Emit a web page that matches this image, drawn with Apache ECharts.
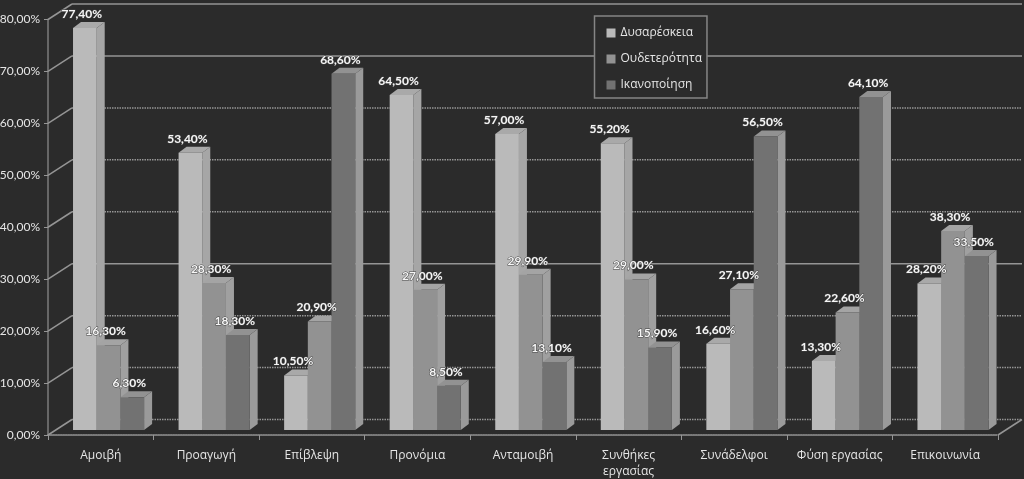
<!DOCTYPE html>
<html><head><meta charset="utf-8">
<style>html,body{margin:0;padding:0;background:#2b2b2b}#c{width:1024px;height:479px}</style>
<script src="https://cdn.jsdelivr.net/npm/echarts@6/dist/echarts.min.js"></script>
</head><body><div id="c"></div>
<script>
const categories = ['Αμοιβή','Προαγωγή','Επίβλεψη','Προνόμια','Ανταμοιβή','Συνθήκες\nεργασίας','Συνάδελφοι','Φύση εργασίας','Επικοινωνία'];
const seriesNames = ['Δυσαρέσκεια','Ουδετερότητα','Ικανοποίηση'];
const dissatisfaction = [77.4,53.4,10.5,64.5,57.0,55.2,16.6,13.3,28.2];
const neutrality = [16.3,28.3,20.9,27.0,29.9,29.0,27.1,22.6,38.3];
const satisfaction = [6.3,18.3,68.6,8.5,13.1,15.9,56.5,64.1,33.5];
const yTicks = [0,10,20,30,40,50,60,70,80];
const solidGridTicks = [30,70,80];

const FONT = '"Open Sans", sans-serif';
const NUMFONT = 'Lato, "Open Sans", sans-serif';
const LINE = '#959595';
const DOT = [1.5,1];
const fmt = v => v.toFixed(2).replace('.', ',') + '%';
const palettes = [
  {front:'#bababa', side:'#a6a6a6', top:'#a9a9a9'},
  {front:'#929292', side:'#a0a0a0', top:'#a4a4a4'},
  {front:'#727272', side:'#9a9a9a', top:'#929292'}
];
const DX = 8, DY = 6, LIFT = 5;
function barBox(idx, api){
  const cat = api.value(0), v = api.value(1);
  const band = api.size([1,0])[0];
  const start = api.coord([cat,0])[0] - band/2;
  const w = band*0.2245;
  const x0 = start + band*0.237 + idx*w;
  return {v, x0, x1:x0+w, w, yb:api.coord([cat,0])[1]-LIFT, yt:api.coord([cat,v])[1]-LIFT};
}
function barRender(idx){
  const pal = palettes[idx];
  return function(params, api){
    const {x0,x1,w,yb,yt} = barBox(idx, api);
    return {type:'group', children:[
      {type:'polygon', shape:{points:[[x1,yb],[x1+DX,yb-DY],[x1+DX,yt-DY],[x1,yt]]}, style:{fill:pal.side}},
      {type:'polygon', shape:{points:[[x0,yt],[x1,yt],[x1+DX,yt-DY],[x0+DX,yt-DY]]}, style:{fill:pal.top}},
      {type:'rect', shape:{x:x0,y:yt,width:w,height:yb-yt}, style:{fill:pal.front}}
    ]};
  };
}
function labelRender(idx){
  return function(params, api){
    const {v,x0,x1,yt} = barBox(idx, api);
    return {type:'text', style:{x:(x0+x1)/2-3, y:yt-DY-8, text:fmt(v), align:'center', verticalAlign:'middle',
      fill:'#f6f6f6', font:'700 12px '+NUMFONT, stroke:'#444444', lineWidth:1}};
  };
}
function backLineRender(params, api){
  const v = api.value(0);
  const band = api.size([1,0])[0];
  const y = api.coord([0,v])[1];
  const x0 = api.coord([0,0])[0]-band/2, x1 = api.coord([8,0])[0]+band/2;
  return {type:'line', shape:{x1:x0,y1:y,x2:x1,y2:y},
    style:{stroke:LINE,lineWidth:1.5,lineDash:solidGridTicks.includes(v)?null:DOT}};
}
function connectorRender(params, api){
  const v = api.value(0);
  const band = api.size([1,0])[0];
  const x = api.coord([0,0])[0]-band/2, y = api.coord([0,v])[1];
  return {type:'line', shape:{x1:x,y1:y,x2:x+24,y2:y-15.5}, style:{stroke:LINE,lineWidth:1.5}};
}
function floorRender(params, api){
  const band = api.size([1,0])[0];
  const x = api.coord([8,0])[0]+band/2, y = api.coord([8,0])[1];
  return {type:'line', shape:{x1:x,y1:y,x2:x+24,y2:y-15.5}, style:{stroke:LINE,lineWidth:1.5}};
}
const values = [dissatisfaction, neutrality, satisfaction];
const chart = echarts.init(document.getElementById('c'));
chart.setOption({
  animation:false,
  backgroundColor:'#2b2b2b',
  textStyle:{fontFamily:FONT},
  legend:{
    show:true, orient:'vertical', left:594.5, top:16,
    padding:[9,5,5,12], itemGap:10, itemWidth:9, itemHeight:9,
    borderColor:'#858585', borderWidth:1.5, backgroundColor:'#2b2b2b',
    icon:'rect', data:seriesNames,
    textStyle:{color:'#e6e6e6', fontSize:12, fontFamily:FONT, lineHeight:16}, z:20
  },
  grid:[
    {left:48, right:26, top:19.5, bottom:44, outerBoundsMode:'none'},
    {left:72, right:2, top:4, bottom:59.5, outerBoundsMode:'none'}
  ],
  xAxis:[
    {type:'category', gridIndex:0, data:categories, boundaryGap:true,
     axisLine:{lineStyle:{color:LINE,width:1.5,type:DOT}},
     axisTick:{show:true,alignWithLabel:false,length:5,lineStyle:{color:LINE}},
     axisLabel:{color:'#e6e6e6',fontSize:12,margin:13,interval:0,lineHeight:16,fontFamily:FONT}},
    {type:'category', gridIndex:1, data:categories, show:true,
     axisLine:{show:false},axisTick:{show:false},axisLabel:{show:false},splitLine:{show:false}}
  ],
  yAxis:[
    {type:'value', gridIndex:0, min:0, max:80, interval:10,
     axisLine:{show:true,lineStyle:{color:'#7c7c7c',width:1.5}},
     axisTick:{show:true,length:4,lineStyle:{color:LINE}},
     axisLabel:{color:'#e6e6e6',fontSize:12,margin:8,formatter:fmt,fontFamily:NUMFONT},
     splitLine:{show:false}},
    {type:'value', gridIndex:1, min:0, max:80, interval:10, show:true,
     axisLine:{show:false},axisTick:{show:false},axisLabel:{show:false},
     splitLine:{show:false}}
  ],
  series:[
    {type:'custom', xAxisIndex:1, yAxisIndex:1, silent:true, data:yTicks.map(v=>[v]), encode:{y:0}, renderItem:backLineRender, z:1},
    {type:'custom', xAxisIndex:0, yAxisIndex:0, silent:true, data:yTicks.map(v=>[v]), encode:{y:0}, renderItem:connectorRender, z:1},
    {type:'custom', xAxisIndex:0, yAxisIndex:0, silent:true, data:[[0]], encode:{y:0}, renderItem:floorRender, z:1}
  ].concat(seriesNames.map((name,i)=>({
    name, type:'custom', xAxisIndex:0, yAxisIndex:0, z:5+i, clip:false,
    itemStyle:{color:palettes[i].front},
    data:values[i].map((v,c)=>[c,v]), encode:{x:0,y:1},
    renderItem:barRender(i)
  }))).concat(seriesNames.map((name,i)=>({
    type:'custom', xAxisIndex:0, yAxisIndex:0, z:15, clip:false, silent:true,
    data:values[i].map((v,c)=>[c,v]), encode:{x:0,y:1},
    renderItem:labelRender(i)
  })))
});
</script></body></html>
